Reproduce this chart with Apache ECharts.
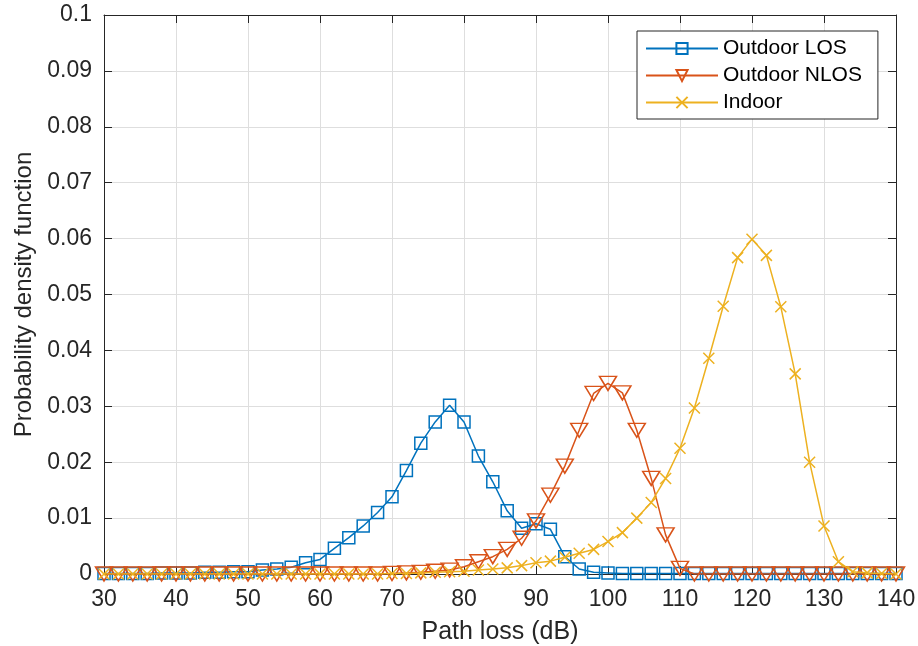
<!DOCTYPE html>
<html>
<head>
<meta charset="utf-8">
<script src="https://cdn.jsdelivr.net/npm/echarts@6/dist/echarts.min.js"></script>
<style>html,body{margin:0;padding:0;background:#fff}#c{width:918px;height:646px}</style>
</head>
<body>
<div id="c"></div>
<script>
const pathLoss = [30,32,34,36,38,40,42,44,46,48,50,52,54,56,58,60,62,64,66,68,70,72,74,76,78,80,82,84,86,88,90,92,94,96,98,100,102,104,106,108,110,112,114,116,118,120,122,124,126,128,130,132,134,136,138,140];
const outdoorLOS = [0.0001,0.0001,0.0001,0.0001,0.0002,0.0002,0.0002,0.0003,0.0003,0.0004,0.0004,0.0007,0.0009,0.0012,0.0020,0.0026,0.0046,0.0065,0.0086,0.0110,0.0138,0.0185,0.0234,0.0272,0.0302,0.0272,0.0211,0.0165,0.0113,0.0082,0.0090,0.0080,0.0031,0.0009,0.0003,0.0002,0.0001,0.0001,0.0001,0.0001,0.0001,0.0001,0.0001,0.0001,0.0001,0.0001,0.0001,0.0001,0.0001,0.0001,0.0001,0.0001,0.0001,0.0001,0.0001,0.0001];
const outdoorNLOS = [0,0,0,0,0,0,0,0,0,0,0,0,0,0,0,0,0,0,0,0,0.0001,0.0002,0.0003,0.0005,0.0007,0.0013,0.0022,0.0031,0.0044,0.0064,0.0095,0.0141,0.0193,0.0257,0.0323,0.0341,0.0324,0.0257,0.0171,0.0070,0.0010,0,0,0,0,0,0,0,0,0,0,0,0,0,0,0];
const indoor = [0,0,0,0,0,0,0,0,0,0,0,0,0,0,0,0,0,0,0,0,0.0001,0.0001,0.0002,0.0003,0.0004,0.0005,0.0007,0.0009,0.0011,0.0015,0.0020,0.0023,0.0030,0.0037,0.0044,0.0058,0.0074,0.0100,0.0128,0.0171,0.0225,0.0297,0.0386,0.0479,0.0566,0.0599,0.0570,0.0478,0.0358,0.0200,0.0086,0.0022,0.0004,0.0002,0.0001,0];
const seriesNames = ['Outdoor LOS','Outdoor NLOS','Indoor'];
const xTicks = {min:30, max:140, interval:10};
const yTicks = {min:0, max:0.1, interval:0.01};

const colors = ['#0072BD','#D95319','#EDB120'];
const FONT = 'Liberation Sans, Arial, Helvetica, sans-serif';
const AX = '#262626';
const pair = arr => pathLoss.map((x,i)=>[x,arr[i]]);

const symbols = [
  'path://M0,0L10,0L10,10L0,10Z',
  'path://M0,0L10,0L5,8.5Z',
  'path://M0,0L10,10M10,0L0,10'
];
const sizes = [12,[17,14],11];
const datas = [outdoorLOS,outdoorNLOS,indoor];

const series = seriesNames.map((n,i)=>({
  name:n, type:'line', xAxisIndex:0, yAxisIndex:0,
  data: pair(datas[i]),
  symbol: symbols[i], symbolSize: sizes[i], showSymbol:true,
  lineStyle:{color:colors[i], width:1.5},
  itemStyle:{color:'rgba(0,0,0,0)', borderColor:colors[i], borderWidth:1.5},
  emphasis:{disabled:true},
  animation:false,
  z: 2+i
}));

const gridLine = {show:true, lineStyle:{color:'#dedede', width:1}};
const option = {
  animation:false,
  grid:{left:104, right:22, top:15, bottom:72, containLabel:false, outerBoundsMode:'none'},
  legend:{
    left:637, top:31, orient:'vertical',
    data: seriesNames,
    itemWidth:72, itemHeight:14, itemGap:6,
    padding:[7,16,6,8],
    backgroundColor:'#fff', borderColor:AX, borderWidth:1,
    textStyle:{fontFamily:FONT, fontSize:21, color:'#000'},
    selectedMode:false
  },
  xAxis:[{
    type:'value', position:'bottom', min:xTicks.min, max:xTicks.max, interval:xTicks.interval,
    name:'Path loss (dB)', nameLocation:'middle', nameGap:46,
    nameTextStyle:{fontFamily:FONT, fontSize:25, color:AX},
    axisLine:{show:true, onZero:false, lineStyle:{color:AX, width:1}},
    axisTick:{show:true, inside:true, length:8, lineStyle:{color:AX}},
    axisLabel:{fontFamily:FONT, fontSize:23, color:AX, margin:14},
    splitLine:gridLine
  },{
    type:'value', position:'top', min:xTicks.min, max:xTicks.max, interval:xTicks.interval,
    axisLine:{show:true, onZero:false, lineStyle:{color:AX, width:1}},
    axisTick:{show:true, inside:true, length:8, lineStyle:{color:AX}},
    axisLabel:{show:false}, splitLine:{show:false}
  }],
  yAxis:[{
    type:'value', position:'left', min:yTicks.min, max:yTicks.max, interval:yTicks.interval,
    name:'Probability density function', nameLocation:'middle', nameGap:66,
    nameTextStyle:{fontFamily:FONT, fontSize:24, color:AX},
    axisLine:{show:true, onZero:false, lineStyle:{color:AX, width:1}},
    axisTick:{show:true, inside:true, length:8, lineStyle:{color:AX}},
    axisLabel:{fontFamily:FONT, fontSize:23, color:AX, margin:12, padding:[4,0,0,0],
      formatter: v => String(+v.toFixed(2))},
    splitLine:gridLine
  },{
    type:'value', position:'right', min:yTicks.min, max:yTicks.max, interval:yTicks.interval,
    axisLine:{show:true, onZero:false, lineStyle:{color:AX, width:1}},
    axisTick:{show:true, inside:true, length:8, lineStyle:{color:AX}},
    axisLabel:{show:false}, splitLine:{show:false}
  }],
  series: series
};
const chart = echarts.init(document.getElementById('c'), null, {renderer:'canvas'});
chart.setOption(option);
</script>
</body>
</html>
